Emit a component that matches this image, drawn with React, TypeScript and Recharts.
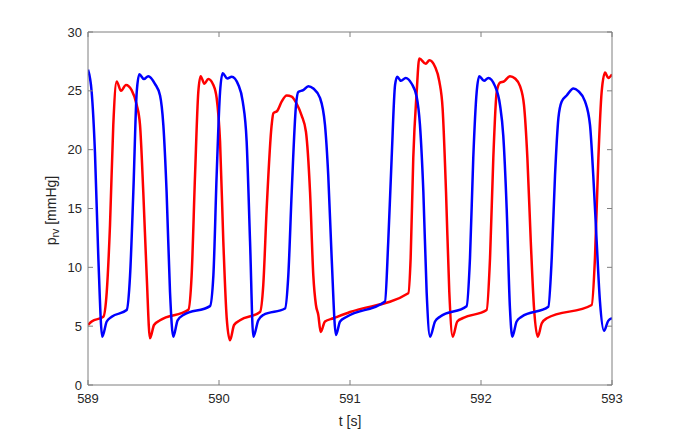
import { Line, LineChart, XAxis, YAxis } from "recharts";

const X_TICKS = [589, 590, 591, 592, 593];
const Y_TICKS = [0, 5, 10, 15, 20, 25, 30];

// [t (s), p_rv (mmHg)]
const RED_PRV: [number, number][] = [
  [589.0, 5.1], [589.028, 5.4], [589.117, 5.8], [589.143, 7.9], [589.168, 13.6], [589.193, 22.1],
  [589.219, 25.8], [589.252, 25.0], [589.29, 25.5], [589.333, 25.06], [589.372, 23.8], [589.397, 22.1],
  [589.422, 16.4], [589.448, 9.3], [589.473, 3.97], [589.504, 5.1], [589.55, 5.5], [589.766, 6.4],
  [589.791, 9.3], [589.817, 17.8], [589.842, 24.9], [589.86, 26.25], [589.888, 25.6], [589.918, 26.0],
  [589.957, 25.5], [589.982, 24.4], [590.008, 20.7], [590.033, 12.2], [590.059, 5.67], [590.084, 3.8],
  [590.115, 5.1], [590.16, 5.5], [590.313, 6.2], [590.338, 8.5], [590.364, 15.0], [590.402, 22.1],
  [590.415, 23.1], [590.445, 23.3], [590.479, 24.1], [590.517, 24.6], [590.555, 24.5], [590.593, 23.9],
  [590.631, 22.9], [590.664, 21.5], [590.695, 16.4], [590.72, 9.3], [590.74, 6.8], [590.758, 5.95],
  [590.776, 4.5], [590.809, 5.4], [590.873, 5.67], [591.0, 6.2], [591.445, 7.8], [591.463, 10.8],
  [591.483, 19.3], [591.509, 24.9], [591.529, 27.75], [591.578, 27.3], [591.606, 27.6], [591.649, 27.05],
  [591.682, 25.8], [591.707, 23.5], [591.733, 16.4], [591.758, 7.9], [591.784, 4.1], [591.819, 5.4],
  [591.865, 5.7], [592.043, 6.37], [592.069, 10.8], [592.094, 19.3], [592.12, 24.9], [592.145, 25.7],
  [592.176, 25.8], [592.221, 26.25], [592.26, 26.05], [592.298, 25.4], [592.328, 23.8], [592.354, 19.3],
  [592.38, 12.2], [592.405, 6.5], [592.433, 4.1], [592.464, 5.25], [592.502, 5.67], [592.845, 6.8],
  [592.87, 10.8], [592.896, 19.3], [592.921, 24.9], [592.947, 26.55], [592.971, 26.1], [593.0, 26.4],
];

const BLUE_PRV: [number, number][] = [
  [589.0, 26.8], [589.028, 24.9], [589.053, 19.8], [589.079, 10.8], [589.109, 4.1], [589.143, 5.4],
  [589.181, 5.8], [589.295, 6.37], [589.321, 9.3], [589.346, 16.4], [589.372, 24.9], [589.392, 26.4],
  [589.427, 26.0], [589.46, 26.25], [589.511, 25.6], [589.55, 24.6], [589.575, 22.1], [589.6, 16.4],
  [589.626, 7.9], [589.651, 4.1], [589.684, 5.5], [589.728, 5.95], [589.931, 6.7], [589.957, 9.3],
  [589.982, 17.8], [590.008, 24.9], [590.028, 26.5], [590.063, 26.05], [590.097, 26.2], [590.148, 25.5],
  [590.181, 24.1], [590.211, 20.7], [590.237, 12.2], [590.262, 4.1], [590.3, 5.5], [590.338, 5.95],
  [590.504, 6.5], [590.529, 9.3], [590.555, 16.4], [590.588, 23.8], [590.605, 24.9], [590.643, 25.06],
  [590.682, 25.4], [590.72, 25.2], [590.771, 24.4], [590.809, 22.1], [590.834, 17.8], [590.86, 10.8],
  [590.893, 4.25], [590.924, 5.4], [590.975, 5.8], [591.267, 7.1], [591.292, 12.2], [591.318, 19.3],
  [591.344, 25.5], [591.361, 26.2], [591.389, 25.85], [591.425, 26.1], [591.471, 25.6], [591.509, 24.5],
  [591.534, 22.1], [591.56, 16.4], [591.585, 7.9], [591.611, 4.1], [591.649, 5.4], [591.687, 5.8],
  [591.89, 6.7], [591.916, 10.8], [591.941, 19.3], [591.967, 24.9], [591.987, 26.25], [592.023, 25.85],
  [592.056, 26.1], [592.107, 25.4], [592.145, 23.8], [592.17, 21.2], [592.196, 15.0], [592.221, 6.5],
  [592.239, 4.1], [592.272, 5.4], [592.31, 5.8], [592.514, 6.65], [592.54, 10.8], [592.565, 17.8],
  [592.591, 22.7], [592.616, 24.1], [592.654, 24.6], [592.705, 25.2], [592.743, 24.97], [592.794, 24.1],
  [592.832, 22.1], [592.857, 17.8], [592.883, 12.2], [592.908, 7.1], [592.939, 4.6], [592.971, 5.45],
  [593.0, 5.67],
];

const toRows = (pts: [number, number][]) => pts.map(([t, p]) => ({ t, p }));

const AXIS_STROKE = "#7f7f7f";
const TEXT_COLOR = "#262626";
const FONT = "'Liberation Sans', Arial, sans-serif";
const TICK_LEN = 5;
const TICK_FONT = 13;
const LABEL_FONT = 14;

function BottomTick({ x, y, payload }: any) {
  return (
    <g>
      <line x1={x} y1={y} x2={x} y2={y - TICK_LEN} stroke={AXIS_STROKE} />
      <text x={x} y={y + 18} textAnchor="middle" fill={TEXT_COLOR} fontSize={TICK_FONT} fontFamily={FONT}>
        {payload.value}
      </text>
    </g>
  );
}

function LeftTick({ x, y, payload }: any) {
  return (
    <g>
      <line x1={x} y1={y} x2={x + TICK_LEN} y2={y} stroke={AXIS_STROKE} />
      <text x={x - 6} y={y + 4.5} textAnchor="end" fill={TEXT_COLOR} fontSize={TICK_FONT} fontFamily={FONT}>
        {payload.value}
      </text>
    </g>
  );
}

function TopTick({ x, y }: any) {
  return <line x1={x} y1={y} x2={x} y2={y + TICK_LEN} stroke={AXIS_STROKE} />;
}

function RightTick({ x, y }: any) {
  return <line x1={x} y1={y} x2={x - TICK_LEN} y2={y} stroke={AXIS_STROKE} />;
}

function XLabel({ viewBox }: any) {
  const cx = viewBox ? viewBox.x + viewBox.width / 2 : 350;
  return (
    <text x={cx} y={426} textAnchor="middle" fill={TEXT_COLOR} fontSize={LABEL_FONT} fontFamily={FONT}>
      t [s]
    </text>
  );
}

function YLabel({ viewBox }: any) {
  const cy = viewBox ? viewBox.y + viewBox.height / 2 : 208;
  return (
    <text
      transform={`translate(56, ${cy + 2}) rotate(-90)`}
      x={0}
      y={0}
      textAnchor="middle"
      fill={TEXT_COLOR}
      fontSize={LABEL_FONT}
      fontFamily={FONT}
    >
      <tspan>p</tspan>
      <tspan fontSize={10.5} dy={3}>rv</tspan>
      <tspan dy={-3}> [mmHg]</tspan>
    </text>
  );
}

export default function App() {
  return (
    <div style={{ position: "absolute", left: 0, top: 0, width: 676, height: 434, background: "#fff" }}>
      <LineChart width={676} height={434} margin={{ top: 0, right: 0, bottom: 0, left: 0 }}>
        <XAxis
          xAxisId="bottom"
          type="number"
          dataKey="t"
          domain={[589, 593]}
          ticks={X_TICKS}
          allowDataOverflow
          height={49}
          tickSize={0}
          tickMargin={0}
          tickLine={false}
          axisLine={{ stroke: AXIS_STROKE }}
          tick={<BottomTick />}
          label={<XLabel />}
        />
        <XAxis
          xAxisId="top"
          orientation="top"
          type="number"
          dataKey="t"
          domain={[589, 593]}
          ticks={X_TICKS}
          allowDataOverflow
          height={32}
          tickSize={0}
          tickMargin={0}
          tickLine={false}
          axisLine={{ stroke: AXIS_STROKE }}
          tick={<TopTick />}
        />
        <YAxis
          yAxisId="left"
          type="number"
          domain={[0, 30]}
          ticks={Y_TICKS}
          allowDataOverflow
          width={88}
          tickSize={0}
          tickMargin={0}
          tickLine={false}
          axisLine={{ stroke: AXIS_STROKE }}
          tick={<LeftTick />}
          label={<YLabel />}
        />
        <YAxis
          yAxisId="right"
          orientation="right"
          type="number"
          domain={[0, 30]}
          ticks={Y_TICKS}
          allowDataOverflow
          width={64}
          tickSize={0}
          tickMargin={0}
          tickLine={false}
          axisLine={{ stroke: AXIS_STROKE }}
          tick={<RightTick />}
        />
        <Line
          xAxisId="bottom"
          yAxisId="left"
          data={toRows(RED_PRV)}
          dataKey="p"
          type="monotone"
          stroke="#ff0000"
          strokeWidth={2.5}
          dot={false}
          isAnimationActive={false}
        />
        <Line
          xAxisId="bottom"
          yAxisId="left"
          data={toRows(BLUE_PRV)}
          dataKey="p"
          type="monotone"
          stroke="#0000ff"
          strokeWidth={2.5}
          dot={false}
          isAnimationActive={false}
        />
      </LineChart>
    </div>
  );
}
